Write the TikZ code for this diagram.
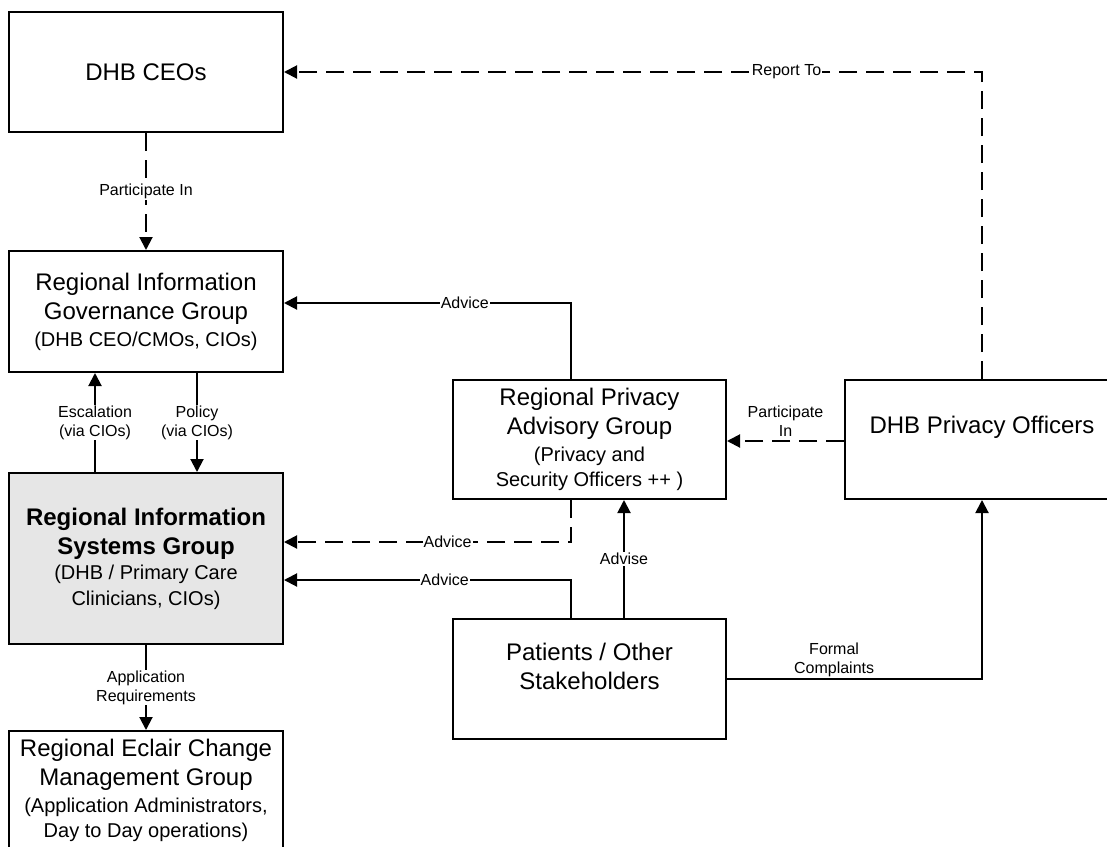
\documentclass[tikz,border=0pt]{standalone}
\usepackage{fontspec}
\setmainfont{Liberation Sans}
\usetikzlibrary{arrows.meta}
\usetikzlibrary{positioning}
\usepackage{xcolor}
\definecolor{groupgray}{RGB}{230,230,230}
\newcommand{\groupsub}[1]{{\fontsize{20}{24}\selectfont #1}}

\begin{document}
\begin{tikzpicture}[x=1pt, y=-1pt,
	every node/.style={font=\fontsize{16}{19}\selectfont},
	box/.style={draw, line width=2pt, minimum width=274pt, inner sep=0pt, align=center, font=\fontsize{24}{29}\selectfont},
	boxtext/.style={align=center, font=\fontsize{24}{29}\selectfont},
	conn/.style={line width=2pt},
	dashconn/.style={conn, dash pattern=on 18pt off 9pt},
	arr/.style={-{Triangle[length=13pt,width=13pt]}},
	lbl/.style={fill=white, inner sep=1pt, align=center}]
				\useasboundingbox (0,0) rectangle (1107,846);
				\clip (0,0) rectangle (1107,846);

				\node[box, minimum height=120pt] (ceo) at (146,72) {DHB CEOs};
				\node[box, minimum height=121pt] (rigg) at (146,311.5) {Regional Information\\Governance Group\\[-2pt]\groupsub{(DHB CEO/CMOs, CIOs)}};
				\node[box, minimum height=171pt, fill=groupgray] (risg) at (146,558.5) {\textbf{Regional Information}\\\textbf{Systems Group}\\[-4pt]\groupsub{(DHB / Primary Care}\\[-3pt]\groupsub{Clinicians, CIOs)}};
				\node[box, minimum height=118pt] (recmg) at (146,790) {Regional Eclair Change\\Management Group\\[-2pt]\groupsub{(Application Administrators,}\\[-4pt]\groupsub{Day to Day operations)}};

				\node[box, minimum width=273pt, minimum height=119pt] (rpag) at (589.5,439.5) {Regional Privacy\\Advisory Group\\[-2pt]\groupsub{(Privacy and}\\[-4pt]\groupsub{Security Officers ++ )}};
				\node[box, minimum width=273pt, minimum height=120pt] (pat) at (589.5,679) {};
				\node[boxtext] (pattext) at (589.5,666) {Patients / Other\\Stakeholders};
				\node[box, minimum height=119pt] (dpo) at (982,439.5) {};
				\node[boxtext] (dpotext) at (982,427) {DHB Privacy Officers};

				\draw[dashconn, arr] (dpo.north) |- node[lbl, pos=0.64] {Report To} (ceo.east);
				\draw[dashconn, arr] (ceo.south) -- node[lbl] {Participate In} (rigg.north);
				\draw[conn, arr] ([xshift=119pt]rpag.north west) |- node[lbl, pos=0.685] {Advice} ([yshift=8.5pt]rigg.east);
				\draw[conn, arr] ([xshift=-51pt]risg.north) -- node[lbl] {Escalation\\(via CIOs)} ([xshift=-51pt]rigg.south);
				\draw[conn, arr] ([xshift=51pt]rigg.south) -- node[lbl] {Policy\\(via CIOs)} ([xshift=51pt]risg.north);
				\draw[conn, arr] (risg.south) -- node[lbl] {Application\\Requirements} (recmg.north);
				\draw[dashconn, arr] ([xshift=119pt]rpag.south west) |- node[lbl, pos=0.715] {Advice} ([yshift=16.5pt]risg.east);
				\draw[conn, arr] ([xshift=119pt]pat.north west) |- node[lbl, pos=0.72] {Advice} ([yshift=-21.5pt]risg.east);
				\draw[conn, arr] ([xshift=34.5pt]pat.north) -- node[lbl] {Advise} ([xshift=34.5pt]rpag.south);
				\draw[dashconn, arr] ([yshift=-1.5pt]dpo.west) -- node[above, yshift=3pt, inner sep=1pt, align=center] {Participate\\In} ([yshift=-1.5pt]rpag.east);
				\draw[conn, arr] (pat.east) -| node[above, pos=0.21, inner sep=1pt, align=center] {Formal\\Complaints} (dpo.south);
			\end{tikzpicture}
\end{document}
